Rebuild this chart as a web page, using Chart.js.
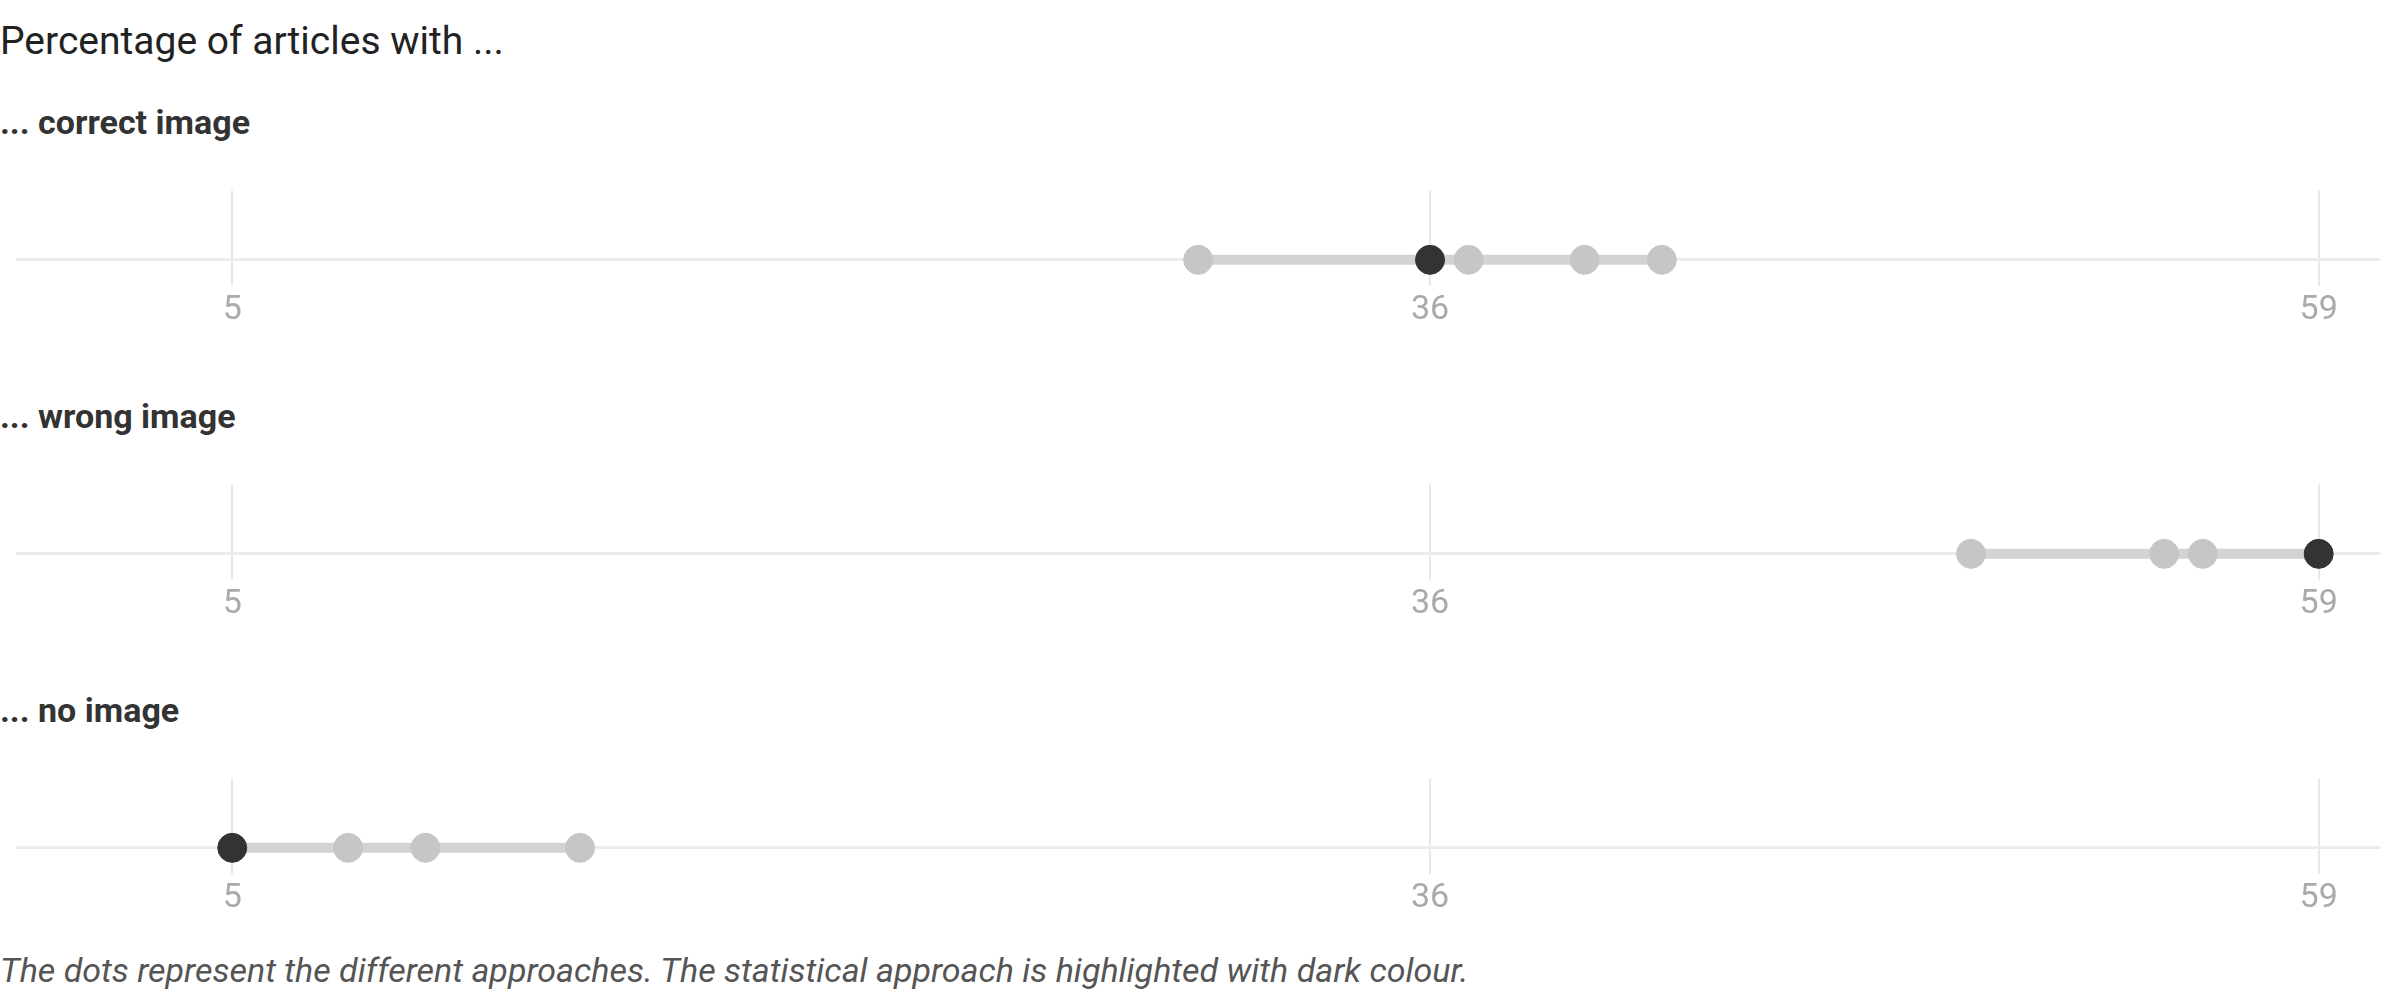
<!DOCTYPE html>
<html><head><meta charset="utf-8">
<script src="https://cdn.jsdelivr.net/npm/chart.js@4"></script>
<style>
body{margin:0;width:2400px;height:1002px;background:#fff;font-family:Roboto,sans-serif;position:relative;overflow:hidden}
.t{position:absolute;left:0;white-space:nowrap}
#title{top:18px;font-size:39px;color:#222}
.lab{font-size:34px;font-weight:bold;color:#333}
#foot{top:950px;font-size:34px;font-style:italic;color:#555}
canvas{position:absolute;left:0}
</style></head><body>
<div class="t" id="title">Percentage of articles with ...</div>
<div class="t lab" style="top:102px">... correct image</div>
<div class="t lab" style="top:396px">... wrong image</div>
<div class="t lab" style="top:690px">... no image</div>
<canvas id="c0" width="2396" height="160" style="top:175px"></canvas>
<canvas id="c1" width="2396" height="160" style="top:469px"></canvas>
<canvas id="c2" width="2396" height="160" style="top:763px"></canvas>
<div class="t" id="foot">The dots represent the different approaches. The statistical approach is highlighted with dark colour.</div>
<script>
// values per category (percent)
const categories = ['correct image', 'wrong image', 'no image'];
const approachValues = [
    [30, 37, 40, 42],
    [50, 55, 56],
    [8, 10, 14]
];
const statisticalValues = [36, 59, 5];
const tickValues = [5, 36, 59];

categories.forEach(function(cat, i) {
    const all = approachValues[i].concat([statisticalValues[i]]);
    const lo = Math.min.apply(null, all), hi = Math.max.apply(null, all);
    new Chart(document.getElementById('c' + i), {
        type: 'scatter',
        data: {
            datasets: [
                {
                    label: 'statistical',
                    data: [{x: statisticalValues[i], y: 0}],
                    backgroundColor: '#333', borderColor: '#333',
                    pointRadius: 14.5, clip: false, order: 0
                },
                {
                    label: 'approaches',
                    data: approachValues[i].map(v => ({x: v, y: 0})),
                    backgroundColor: '#c6c6c6', borderColor: '#c6c6c6',
                    pointRadius: 14.5, clip: false, order: 1
                },
                {
                    type: 'line', label: 'range',
                    data: [{x: lo, y: 0}, {x: hi, y: 0}],
                    borderColor: '#d3d3d3', borderWidth: 10,
                    pointRadius: 0, clip: false, order: 2
                }
            ]
        },
        options: {
            responsive: false, animation: false, devicePixelRatio: 1,
            layout: {padding: 0},
            plugins: {legend: {display: false}, tooltip: {enabled: false}},
            scales: {
                x: {
                    type: 'linear', min: -0.61, max: 60.6,
                    afterBuildTicks: s => { s.ticks = tickValues.map(v => ({value: v})); },
                    ticks: {color: '#aaa', font: {family: 'Roboto', size: 34}, padding: 4},
                    grid: {color: '#e8e8e8', lineWidth: 2, drawTicks: false},
                    border: {display: false}
                },
                y: {
                    min: -0.38, max: 1,
                    afterBuildTicks: s => { s.ticks = [{value: 0}]; },
                    ticks: {display: false},
                    grid: {color: '#ececec', lineWidth: 3, drawTicks: false},
                    border: {display: false}
                }
            }
        }
    });
});
</script>
</body></html>
